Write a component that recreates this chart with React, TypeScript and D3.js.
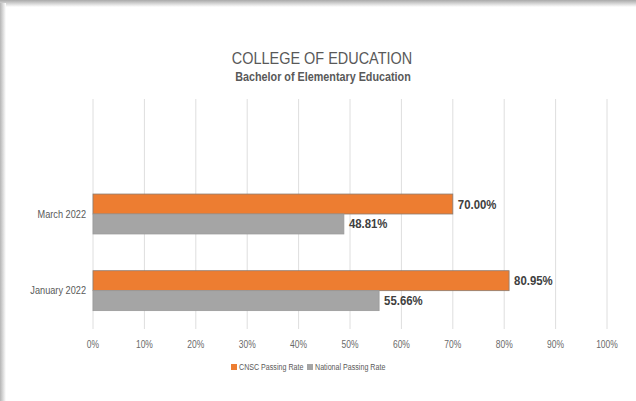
import React, { useEffect, useRef } from "react";
import * as d3 from "d3";

// chart data
const categories = ["January 2022", "March 2022", ""];
const seriesNames = ["CNSC Passing Rate", "National Passing Rate"];
const cnscRate = [80.95, 70.0];
const nationalRate = [55.66, 48.81];
const xTicks = [0, 10, 20, 30, 40, 50, 60, 70, 80, 90, 100];
const colors = ["#ED7D31", "#A5A5A5"];

const W = 636;
const H = 401;
const margin = { top: 99, bottom: 72, left: 93, right: 29 };
const FONT = "'Liberation Sans', Arial, sans-serif";

// narrow text: the original uses a condensed face, so squeeze horizontally
function narrowText(sel: any, x: any, y: any, sx: number) {
  return sel.attr("transform", (d: any, i: number) => {
    const xx = typeof x === "function" ? x(d, i) : x;
    const yy = typeof y === "function" ? y(d, i) : y;
    return "translate(" + xx + "," + yy + ") scale(" + sx + ",1)";
  });
}

function App() {
  const chartRef = useRef(null);

  useEffect(() => {
    const svg = d3.select(chartRef.current);
    svg.selectAll("*").remove();

    const defs = svg.append("defs");
    const gTop = defs
      .append("linearGradient")
      .attr("id", "shTop")
      .attr("x1", 0)
      .attr("y1", 0)
      .attr("x2", 0)
      .attr("y2", 1);
    gTop.append("stop").attr("offset", "0%").attr("stop-color", "#a9a9a9");
    gTop.append("stop").attr("offset", "100%").attr("stop-color", "#ffffff");
    const gLeft = defs
      .append("linearGradient")
      .attr("id", "shLeft")
      .attr("x1", 0)
      .attr("y1", 0)
      .attr("x2", 1)
      .attr("y2", 0);
    gLeft.append("stop").attr("offset", "0%").attr("stop-color", "#b5b5b5");
    gLeft.append("stop").attr("offset", "100%").attr("stop-color", "#ffffff");

    svg.append("rect").attr("width", W).attr("height", H).attr("fill", "#fff");
    svg.append("rect").attr("x", 0).attr("y", 0).attr("width", W).attr("height", 7).attr("fill", "url(#shTop)");
    svg.append("rect").attr("x", 0).attr("y", 3).attr("width", 6).attr("height", H).attr("fill", "url(#shLeft)");

    const x = d3
      .scaleLinear()
      .domain([0, 100])
      .range([margin.left, W - margin.right]);

    const y0 = d3
      .scaleBand()
      .domain(categories)
      .range([H - margin.bottom, margin.top])
      .padding(0);

    const y1 = d3
      .scaleBand()
      .domain(seriesNames)
      .range([0, y0.bandwidth()])
      .paddingInner(0)
      .paddingOuter(0.92);

    // gridlines
    svg
      .append("g")
      .selectAll("line")
      .data(xTicks)
      .enter()
      .append("line")
      .attr("x1", (d) => x(d))
      .attr("x2", (d) => x(d))
      .attr("y1", margin.top)
      .attr("y2", H - margin.bottom)
      .attr("stroke", "#dedede")
      .attr("stroke-width", 1);

    // tick labels
    narrowText(
      svg
        .append("g")
        .selectAll("text")
        .data(xTicks)
        .enter()
        .append("text")
        .attr("text-anchor", "middle")
        .attr("font-family", FONT)
        .attr("font-size", 10)
        .attr("fill", "#6a6a6a")
        .text((d) => d + "%"),
      (d: number) => x(d),
      348,
      0.85
    );

    // category labels
    narrowText(
      svg
        .append("g")
        .selectAll("text")
        .data(categories.filter((c) => c !== ""))
        .enter()
        .append("text")
        .attr("text-anchor", "end")
        .attr("font-family", FONT)
        .attr("font-size", 10)
        .attr("fill", "#595959")
        .text((d) => d),
      86,
      (d: string) => (y0(d) as number) + y0.bandwidth() / 2 + 3.5,
      0.92
    );

    const rows: any[] = [];
    categories.forEach((c, i) => {
      if (c === "") return;
      rows.push({ cat: c, s: 0, v: cnscRate[i] });
      rows.push({ cat: c, s: 1, v: nationalRate[i] });
    });

    svg
      .append("g")
      .selectAll("rect")
      .data(rows)
      .enter()
      .append("rect")
      .attr("x", x(0))
      .attr("y", (d) => (y0(d.cat) as number) + (y1(seriesNames[d.s]) as number))
      .attr("width", (d) => x(d.v) - x(0))
      .attr("height", y1.bandwidth())
      .attr("fill", (d) => colors[d.s])
      .attr("stroke", (d) => (d.s === 0 ? "#8c7a6e" : "#9a9a9a"))
      .attr("stroke-width", 0.8);

    narrowText(
      svg
        .append("g")
        .selectAll("text")
        .data(rows)
        .enter()
        .append("text")
        .attr("font-family", FONT)
        .attr("font-weight", "bold")
        .attr("font-size", 12)
        .attr("fill", "#404040")
        .text((d: any) => d.v.toFixed(2) + "%"),
      (d: any) => x(d.v) + 5,
      (d: any) => (y0(d.cat) as number) + (y1(seriesNames[d.s]) as number) + y1.bandwidth() / 2 + 4.5,
      0.95
    );

    // title
    svg
      .append("text")
      .attr("transform", "translate(322,64) scale(0.85,1)")
      .attr("text-anchor", "middle")
      .attr("font-family", FONT)
      .attr("font-size", 17)
      .attr("fill", "#595959")
      .text("COLLEGE OF EDUCATION");
    svg
      .append("text")
      .attr("transform", "translate(323,81) scale(0.83,1)")
      .attr("text-anchor", "middle")
      .attr("font-family", FONT)
      .attr("font-weight", "bold")
      .attr("font-size", 13)
      .attr("fill", "#595959")
      .text("Bachelor of Elementary Education");

    // legend
    const legendX = [231, 307];
    const lg = svg.append("g");
    seriesNames.forEach((name, i) => {
      lg.append("rect")
        .attr("x", legendX[i])
        .attr("y", 364)
        .attr("width", 6)
        .attr("height", 6)
        .attr("fill", colors[i]);
      lg.append("text")
        .attr("transform", "translate(" + (legendX[i] + 8) + ",370) scale(0.79,1)")
        .attr("font-family", FONT)
        .attr("font-size", 9)
        .attr("fill", "#595959")
        .text(name);
    });
  }, []);

  return (
    <div style={{ position: "fixed", left: 0, top: 0 }}>
      <svg ref={chartRef} width={W} height={H} style={{ display: "block" }} />
    </div>
  );
}

export default App;
